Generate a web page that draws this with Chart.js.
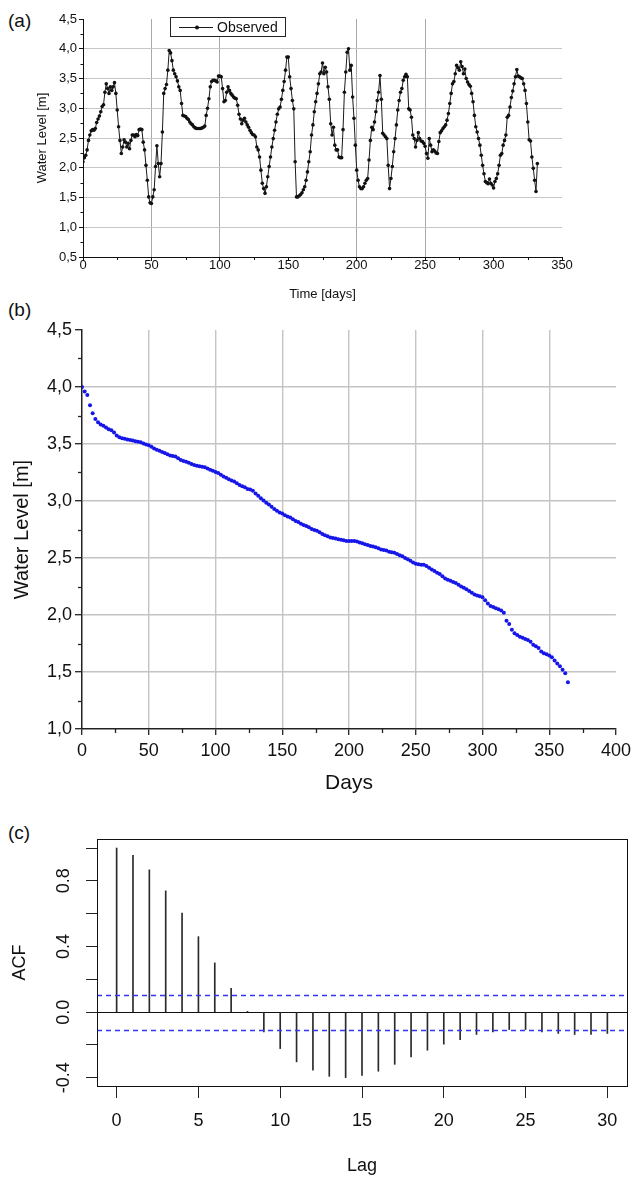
<!DOCTYPE html>
<html><head><meta charset="utf-8">
<script src="https://cdn.jsdelivr.net/npm/chart.js@4.4.1/dist/chart.umd.min.js"></script>
<style>
html,body{margin:0;padding:0;background:#fff;width:636px;height:1177px;overflow:hidden;position:relative}
canvas{position:absolute;left:0}
.lbl{position:absolute;left:8px;font:19px "Liberation Sans",Arial,sans-serif;color:#111;line-height:22px}
</style></head><body>
<div class="lbl" style="top:10px">(a)</div>
<div class="lbl" style="top:299px">(b)</div>
<div class="lbl" style="top:822px">(c)</div>
<canvas id="ca" width="636" height="310" style="top:0"></canvas>
<canvas id="cb" width="636" height="490" style="top:310px"></canvas>
<canvas id="cc" width="636" height="387" style="top:790px"></canvas>
<script>
// ---------- Panel (a): observed daily water level [m], day 0..332 ----------
const observedLevel = [
2.10,2.17,2.21,2.30,2.46,2.55,2.62,2.64,2.63,2.66,
2.76,2.82,2.87,2.94,3.03,3.06,3.27,3.41,3.33,3.25,
3.36,3.30,3.36,3.43,3.25,2.97,2.69,2.46,2.24,2.35,
2.47,2.43,2.35,2.41,2.32,2.46,2.55,2.55,2.52,2.56,
2.54,2.64,2.65,2.64,2.43,2.30,2.04,1.79,1.51,1.41,
1.40,1.51,1.63,2.02,2.37,2.07,1.85,2.07,2.60,3.25,
3.33,3.40,3.64,3.97,3.93,3.80,3.64,3.58,3.53,3.46,
3.36,3.30,3.08,2.88,2.87,2.86,2.83,2.81,2.77,2.74,
2.72,2.69,2.67,2.66,2.66,2.66,2.66,2.67,2.68,2.70,
2.88,3.00,3.16,3.36,3.45,3.47,3.47,3.46,3.44,3.54,
3.54,3.53,3.33,3.11,3.13,3.27,3.36,3.30,3.25,3.22,
3.19,3.17,3.16,3.05,2.90,2.82,2.74,2.80,2.83,2.77,
2.72,2.68,2.63,2.59,2.56,2.55,2.52,2.35,2.30,2.18,
1.96,1.74,1.65,1.57,1.68,1.85,2.02,2.18,2.35,2.49,
2.63,2.77,2.90,2.99,3.02,3.15,3.30,3.45,3.64,3.86,
3.86,3.53,3.33,3.13,2.99,2.10,1.51,1.51,1.53,1.55,
1.58,1.63,1.68,1.79,1.93,2.10,2.27,2.55,2.72,2.94,
3.11,3.25,3.41,3.58,3.61,3.76,3.58,3.69,3.61,3.36,
3.15,2.74,2.55,2.68,2.38,2.30,2.30,2.18,2.17,2.17,
2.64,3.27,3.61,3.94,4.00,3.64,3.72,3.19,2.83,2.38,
1.96,1.79,1.68,1.65,1.65,1.68,1.74,1.79,1.82,2.13,
2.46,2.68,2.64,2.77,2.94,3.13,3.27,3.55,3.15,2.58,
2.55,2.52,2.49,2.04,1.65,1.82,2.02,2.27,2.49,2.72,
2.97,3.13,3.27,3.33,3.47,3.53,3.57,3.53,2.99,2.97,
2.85,2.55,2.49,2.35,2.46,2.59,2.49,2.45,2.44,2.41,
2.36,2.24,2.16,2.49,2.38,2.27,2.30,2.28,2.25,2.24,
2.44,2.59,2.62,2.66,2.69,2.72,2.80,2.91,3.08,3.25,
3.41,3.45,3.58,3.72,3.68,3.64,3.78,3.70,3.58,3.66,
3.50,3.44,3.40,3.37,3.25,3.11,2.88,2.69,2.60,2.49,
2.38,2.21,2.04,1.90,1.77,1.75,1.73,1.81,1.74,1.71,
1.66,1.77,1.82,1.90,2.04,2.21,2.24,2.38,2.46,2.55,
2.85,2.88,3.02,3.18,3.29,3.41,3.53,3.65,3.54,3.53,
3.51,3.50,3.41,3.30,3.08,2.77,2.47,2.45,2.18,1.99,
1.79,1.60,2.07];
const seriesNameA = 'Observed';
const dayTicksA = [0,50,100,150,200,250,300,350];
const dayTickLabelsA = ['0','50','100','150','200','250','300','350'];
const dayGridA = [50,100,200,250];
const levelTicksA = [0.5,1.0,1.5,2.0,2.5,3.0,3.5,4.0,4.5];
const levelTickLabelsA = ['0,5','1,0','1,5','2,0','2,5','3,0','3,5','4,0','4,5'];

// ---------- Panel (b): sorted water level, one value every 2 days (day 0..364) ----------
const durationStepDays = 2;
const durationLevel = [
4.00,3.96,3.93,3.84,3.77,3.72,3.69,3.67,3.66,3.645,
3.63,3.62,3.60,3.575,3.56,3.55,3.545,3.54,3.535,3.53,
3.525,3.52,3.515,3.505,3.495,3.49,3.475,3.46,3.45,3.44,
3.43,3.42,3.41,3.40,3.395,3.39,3.375,3.36,3.35,3.345,
3.335,3.325,3.315,3.31,3.305,3.30,3.295,3.285,3.275,3.265,
3.255,3.245,3.23,3.215,3.205,3.19,3.18,3.17,3.155,3.14,
3.13,3.12,3.105,3.10,3.09,3.065,3.045,3.025,3.005,2.985,
2.97,2.95,2.93,2.915,2.90,2.89,2.875,2.865,2.855,2.84,
2.825,2.815,2.80,2.79,2.78,2.77,2.755,2.745,2.74,2.725,
2.71,2.70,2.69,2.68,2.675,2.67,2.665,2.66,2.655,2.65,
2.65,2.65,2.65,2.645,2.635,2.63,2.62,2.615,2.605,2.60,
2.595,2.585,2.575,2.57,2.565,2.555,2.55,2.545,2.535,2.525,
2.515,2.50,2.49,2.475,2.46,2.45,2.445,2.44,2.44,2.43,
2.415,2.40,2.385,2.37,2.36,2.34,2.32,2.31,2.30,2.29,
2.28,2.265,2.25,2.24,2.225,2.21,2.195,2.18,2.17,2.165,
2.155,2.13,2.10,2.08,2.07,2.06,2.05,2.04,2.02,1.95,
1.92,1.87,1.84,1.825,1.81,1.80,1.79,1.78,1.765,1.74,
1.725,1.71,1.68,1.665,1.655,1.645,1.63,1.60,1.575,1.55,
1.52,1.49,1.41];
const dayTicksB = [0,50,100,150,200,250,300,350,400];
const dayTickLabelsB = ['0','50','100','150','200','250','300','350','400'];
const levelTicksB = [1.0,1.5,2.0,2.5,3.0,3.5,4.0,4.5];
const levelTickLabelsB = ['1,0','1,5','2,0','2,5','3,0','3,5','4,0','4,5'];

// ---------- Panel (c): autocorrelation function ----------
const acfLag = [0,1,2,3,4,5,6,7,8,9,10,11,12,13,14,15,16,17,18,19,20,21,22,23,24,25,26,27,28,29,30];
const acfValue = [1.0,0.955,0.867,0.739,0.603,0.46,0.30,0.145,0.005,-0.12,
  -0.222,-0.303,-0.354,-0.391,-0.399,-0.385,-0.36,-0.318,-0.273,-0.232,
  -0.195,-0.167,-0.136,-0.12,-0.106,-0.106,-0.12,-0.13,-0.136,-0.136,-0.13];
const acfConfidence = 0.107;
const acfTickValues = [-0.4,0.0,0.4,0.8];
const acfTickLabels = ['-0.4','0.0','0.4','0.8'];
const acfTickMarks = [-0.4,-0.2,0,0.2,0.4,0.6,0.8,1.0];
const lagTicks = [0,5,10,15,20,25,30];
const lagTickLabels = ['0','5','10','15','20','25','30'];

// ---------- helpers ----------
Chart.defaults.font.family = '"Liberation Sans", Arial, Helvetica, sans-serif';
Chart.defaults.color = '#111';
const TR = 'rgba(0,0,0,0)';
function labelFrom(values, labels){
  return v => { const i = values.findIndex(t => Math.abs(t - v) < 1e-6); return i >= 0 ? labels[i] : ''; };
}
const minorTicks = {
  id: 'minorTicks',
  afterDraw(chart, args, o){
    const ctx = chart.ctx, ca = chart.chartArea;
    ctx.save(); ctx.strokeStyle = o.color || '#111'; ctx.lineWidth = o.width || 1;
    ['x','y'].forEach(ax => {
      const m = o[ax]; if (!m) return;
      const s = chart.scales[ax];
      const n = Math.round((s.max - s.min) / m.step);
      for (let k = 0; k <= n; k++) {
        const v = s.min + k * m.step;
        if (Math.abs(v / m.major - Math.round(v / m.major)) < 1e-6) continue;
        const p = Math.round(s.getPixelForValue(v)) + 0.5;
        ctx.beginPath();
        if (ax === 'x') { ctx.moveTo(p, ca.bottom); ctx.lineTo(p, ca.bottom + m.len); }
        else { ctx.moveTo(ca.left, p); ctx.lineTo(ca.left - m.len, p); }
        ctx.stroke();
      }
    });
    ctx.restore();
  }
};
const legendBox = {
  id: 'legendBox',
  afterDraw(chart, args, o){
    const ctx = chart.ctx, ds = chart.data.datasets[0];
    ctx.save();
    ctx.fillStyle = '#fff'; ctx.fillRect(o.x, o.y, o.w, o.h);
    ctx.strokeStyle = '#222'; ctx.lineWidth = 1;
    ctx.strokeRect(o.x + 0.5, o.y + 0.5, o.w, o.h);
    const cy = Math.round(o.y + o.h / 2) + 0.5;
    ctx.strokeStyle = ds.borderColor; ctx.beginPath();
    ctx.moveTo(o.x + 9, cy); ctx.lineTo(o.x + 43, cy); ctx.stroke();
    ctx.fillStyle = ds.pointBackgroundColor; ctx.beginPath();
    ctx.arc(o.x + 27, cy, 2, 0, Math.PI * 2); ctx.fill();
    ctx.font = '14px "Liberation Sans", Arial, sans-serif';
    ctx.fillStyle = '#111'; ctx.textBaseline = 'middle';
    ctx.fillText(ds.label, o.x + 47, cy + 1);
    ctx.restore();
  }
};
const acfDecor = {
  id: 'acfDecor',
  afterDatasetsDraw(chart, args, o){
    const ctx = chart.ctx, ca = chart.chartArea, y = chart.scales.y;
    ctx.save();
    ctx.lineWidth = 1.3; ctx.setLineDash([5, 4]);
    [o.bound, -o.bound].forEach(b => {
      const p = Math.round(y.getPixelForValue(b)) + 0.5;
      ctx.strokeStyle = '#3434f4';
      ctx.beginPath(); ctx.moveTo(ca.left, p); ctx.lineTo(ca.right, p); ctx.stroke();
    });
    ctx.setLineDash([]);
    ctx.strokeStyle = '#111'; ctx.lineWidth = 1;
    ctx.strokeRect(Math.round(ca.left) + 0.5, Math.round(ca.top) + 0.5,
                   Math.round(ca.right - ca.left), Math.round(ca.bottom - ca.top));
    ctx.restore();
  }
};

// ---------- Chart (a) ----------
new Chart(document.getElementById('ca'), {
  type: 'scatter',
  data: { datasets: [{
    label: seriesNameA,
    data: observedLevel.map((v, i) => ({ x: i, y: v })),
    showLine: true, borderColor: '#1a1a1a', borderWidth: 1,
    pointRadius: 1.8, pointBackgroundColor: '#111', pointBorderWidth: 0, tension: 0
  }]},
  options: {
    responsive: false, animation: false, events: [],
    layout: { padding: { left: 0, right: 74, top: 19, bottom: 0 } },
    plugins: { legend: { display: false }, tooltip: { enabled: false },
      legendBox: { x: 170, y: 17, w: 115, h: 19 },
      minorTicks: { x: { step: 25, major: 50, len: 3 }, y: { step: 0.25, major: 0.5, len: 2.5 } } },
    scales: {
      x: {
        type: 'linear', min: 0, max: 350,
        afterFit: s => { s.height = 53; },
        afterBuildTicks: s => { s.ticks = dayTicksA.map(v => ({ value: v })); },
        ticks: { padding: -3, font: { size: 13 }, maxRotation: 0, callback: labelFrom(dayTicksA, dayTickLabelsA) },
        grid: { color: c => dayGridA.includes(c.tick.value) ? '#a9a9a9' : TR, tickColor: '#111', tickLength: 4, lineWidth: 1 },
        border: { color: '#111', width: 1 },
        title: { display: true, text: 'Time [days]', font: { size: 13 }, padding: { top: 0, bottom: 8 } }
      },
      y: {
        min: 0.5, max: 4.5,
        afterFit: s => { s.width = 83; },
        afterBuildTicks: s => { s.ticks = levelTicksA.map(v => ({ value: v })); },
        ticks: { padding: 2, font: { size: 13 }, callback: labelFrom(levelTicksA, levelTickLabelsA) },
        grid: { color: c => (c.tick.value > 0.6 && c.tick.value < 4.4) ? '#c6c6c6' : TR, tickColor: '#111', tickLength: 4, lineWidth: 1 },
        border: { color: '#111', width: 1 },
        title: { display: true, text: 'Water Level [m]', font: { size: 13 }, padding: { top: 35, bottom: 0 } }
      }
    }
  },
  plugins: [minorTicks, legendBox]
});

// ---------- Chart (b) ----------
new Chart(document.getElementById('cb'), {
  type: 'scatter',
  data: { datasets: [{
    label: 'Water Level',
    data: durationLevel.map((v, i) => ({ x: i * durationStepDays, y: v })),
    pointRadius: 2, pointBackgroundColor: '#1616e8', pointBorderWidth: 0, showLine: false
  }]},
  options: {
    responsive: false, animation: false, events: [],
    layout: { padding: { left: 0, right: 13, top: 20, bottom: 0 } },
    plugins: { legend: { display: false }, tooltip: { enabled: false },
      minorTicks: { width: 1.3, color: '#222', x: { step: 25, major: 50, len: 4 }, y: { step: 0.25, major: 0.5, len: 4 } } },
    scales: {
      x: {
        type: 'linear', min: 0, max: 400,
        afterFit: s => { s.height = 71; },
        afterBuildTicks: s => { s.ticks = dayTicksB.map(v => ({ value: v })); },
        ticks: { padding: 5, font: { size: 18 }, maxRotation: 0, callback: labelFrom(dayTicksB, dayTickLabelsB) },
        grid: { color: c => (c.tick.value > 0 && c.tick.value < 400) ? '#c4c4c4' : TR, tickColor: '#222', tickLength: 6, lineWidth: 1.4, tickWidth: 1.3 },
        border: { color: '#222', width: 1.5 },
        title: { display: true, text: 'Days', font: { size: 21 }, padding: { top: 0, bottom: 4 } }
      },
      y: {
        min: 1.0, max: 4.5,
        afterFit: s => { s.width = 82; },
        afterBuildTicks: s => { s.ticks = levelTicksB.map(v => ({ value: v })); },
        ticks: { padding: 3, font: { size: 18 }, callback: labelFrom(levelTicksB, levelTickLabelsB) },
        grid: { color: c => (c.tick.value > 1.1 && c.tick.value < 4.4) ? '#c4c4c4' : TR, tickColor: '#222', tickLength: 7, lineWidth: 1.4, tickWidth: 1.3 },
        border: { color: '#222', width: 1.5 },
        title: { display: true, text: 'Water Level [m]', font: { size: 20 }, padding: { top: 10, bottom: 0 } }
      }
    }
  },
  plugins: [minorTicks]
});

// ---------- Chart (c) ----------
new Chart(document.getElementById('cc'), {
  type: 'bar',
  data: { datasets: [{
    label: 'ACF',
    data: acfLag.map((l, i) => ({ x: l, y: acfValue[i] })),
    backgroundColor: '#2a2a2a', borderWidth: 0, barThickness: 1
  }]},
  options: {
    responsive: false, animation: false, events: [],
    layout: { padding: { left: 0, right: 9, top: 49, bottom: 0 } },
    plugins: { legend: { display: false }, tooltip: { enabled: false }, acfDecor: { bound: acfConfidence } },
    scales: {
      x: {
        type: 'linear', min: -1.2, max: 31.2, offset: false,
        afterFit: s => { s.height = 91; },
        afterBuildTicks: s => { s.ticks = lagTicks.map(v => ({ value: v })); },
        ticks: { padding: 12, font: { size: 18 }, maxRotation: 0, callback: labelFrom(lagTicks, lagTickLabels) },
        grid: { offset: false, drawOnChartArea: false, tickColor: '#222', tickLength: 12, tickWidth: 1 },
        border: { display: false },
        title: { display: true, text: 'Lag', font: { size: 18 }, padding: { top: 0, bottom: 0 } }
      },
      y: {
        min: -0.45, max: 1.055,
        afterFit: s => { s.width = 97; },
        afterBuildTicks: s => { s.ticks = acfTickMarks.map(v => ({ value: v })); },
        ticks: { padding: 6, font: { size: 18 }, minRotation: 90, maxRotation: 90, crossAlign: 'center',
                 callback: labelFrom(acfTickValues, acfTickLabels) },
        grid: { color: c => Math.abs(c.tick.value) < 1e-9 ? '#111' : TR, tickColor: '#222', tickLength: 11, lineWidth: 1 },
        border: { display: false },
        title: { display: true, text: 'ACF', font: { size: 18 }, padding: { top: 9, bottom: 0 } }
      }
    }
  },
  plugins: [acfDecor]
});
</script>
</body></html>
